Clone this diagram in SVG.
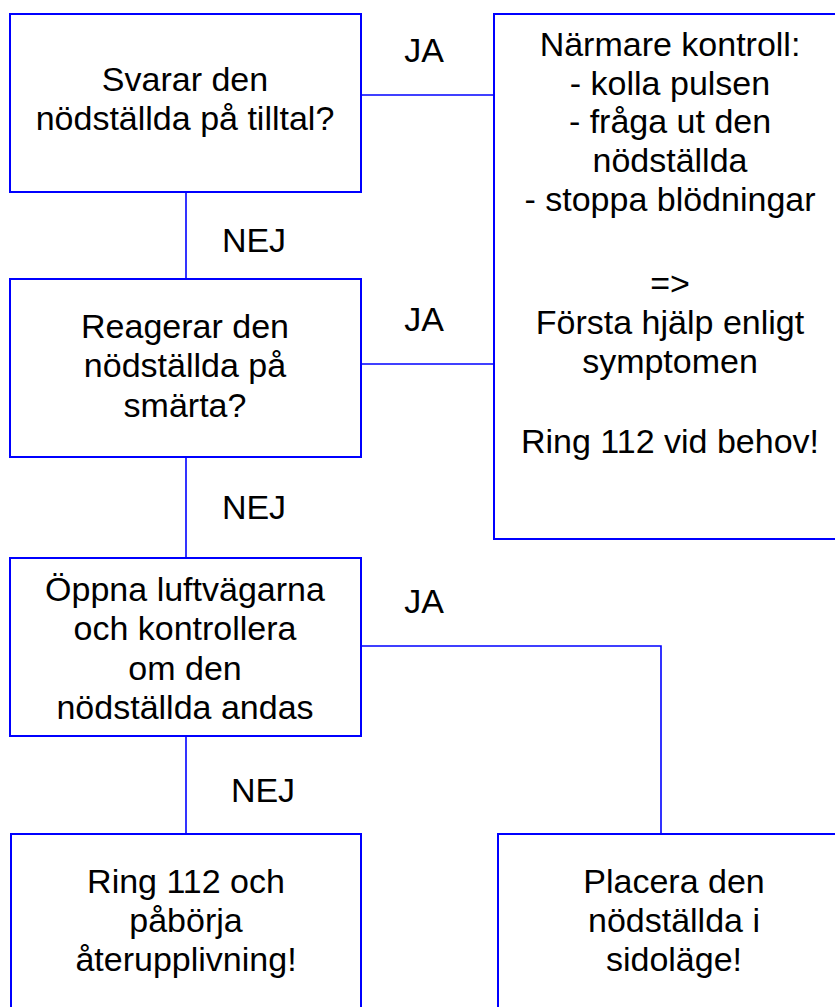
<svg xmlns="http://www.w3.org/2000/svg" width="835" height="1007" viewBox="0 0 835 1007">
<style>
.box{fill:#fff;stroke:#0000ff;stroke-width:2}
.con{fill:none;stroke:#0000ff;stroke-width:1.6}
text{font-family:"Liberation Sans",Arial,sans-serif;font-size:34px;fill:#000;text-anchor:middle}
</style>
<rect width="835" height="1007" fill="#fff"/>
<g id="connectors">
<path class="con" d="M186 192V279"/>
<path class="con" d="M186 457V558"/>
<path class="con" d="M186 736V834"/>
<path class="con" d="M361 95H494"/>
<path class="con" d="M361 364H494"/>
<path class="con" d="M361 646H661V834"/>
<text x="424" y="62">JA</text>
<text x="424" y="331">JA</text>
<text x="424" y="613">JA</text>
<text x="254" y="252">NEJ</text>
<text x="254" y="519">NEJ</text>
<text x="263" y="802">NEJ</text>
</g>
<g id="n1">
<rect class="box" x="10" y="14" width="351" height="178"/>
<text x="185" y="91">Svarar den</text>
<text x="185" y="130">nödställda på tilltal?</text>
</g>
<g id="n2">
<rect class="box" x="10" y="279" width="351" height="178"/>
<text x="185" y="338">Reagerar den</text>
<text x="185" y="377">nödställda på</text>
<text x="185" y="417">smärta?</text>
</g>
<g id="n3">
<rect class="box" x="10" y="558" width="351" height="178"/>
<text x="185" y="601">Öppna luftvägarna</text>
<text x="185" y="640">och kontrollera</text>
<text x="185" y="680">om den</text>
<text x="185" y="719">nödställda andas</text>
</g>
<g id="n4">
<rect class="box" x="11" y="834" width="350" height="200"/>
<text x="186" y="893">Ring 112 och</text>
<text x="186" y="932">påbörja</text>
<text x="186" y="971">återupplivning!</text>
</g>
<g id="n5">
<rect class="box" x="498" y="834" width="360" height="200"/>
<text x="674" y="893">Placera den</text>
<text x="674" y="932">nödställda i</text>
<text x="674" y="971">sidoläge!</text>
</g>
<g id="n6">
<rect class="box" x="494" y="14" width="360" height="525"/>
<text x="670" y="56">Närmare kontroll:</text>
<text x="670" y="94.5">- kolla pulsen</text>
<text x="670" y="133">- fråga ut den</text>
<text x="670" y="172">nödställda</text>
<text x="670" y="210.5">- stoppa blödningar</text>
<text x="670" y="295">=&gt;</text>
<text x="670" y="334">Första hjälp enligt</text>
<text x="670" y="373">symptomen</text>
<text x="670" y="453">Ring 112 vid behov!</text>
</g>
</svg>
